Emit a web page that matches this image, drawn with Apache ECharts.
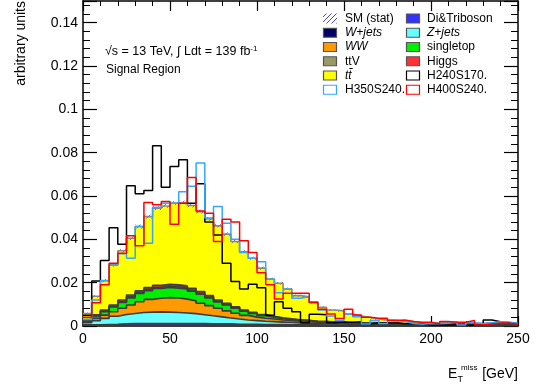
<!DOCTYPE html>
<html>
<head>
<meta charset="utf-8">
<script src="https://cdn.jsdelivr.net/npm/echarts@6.0.0/dist/echarts.min.js"></script>
<style>
  html, body { margin: 0; padding: 0; background: #fff; }
  #chart { width: 540px; height: 391px; }
</style>
</head>
<body>
<div id="chart"></div>
<script>
// 50 bins of 5 GeV, 0 - 250 GeV
var binWidth = 5;

// stacked backgrounds, bottom -> top
var wJets = [0.0002,0.0002,0.0002,0.0002,0.0003,0.0003,0.0003,0.0003,0.0003,0.0003,
             0.0003,0.0003,0.0003,0.0003,0.0003,0.0003,0.0003,0.0002,0.0002,0.0002,
             0.0002,0.0002,0.0002,0.0002,0.0002,0.0002,0.0001,0.0001,0.0001,0.0001,
             0.0001,0.0001,0.0001,0.0001,0.0001,0.0001,0.0001,0.0001,0.0001,0.0001,
             0.0001,0.0001,0.0001,0.0001,0.0001,0.0001,0.0001,0.0001,0.0001,0.0001];
var diboson = [0.0003,0.0004,0.0005,0.0006,0.0007,0.0008,0.0008,0.0008,0.0008,0.0008,
               0.0008,0.0008,0.0008,0.0008,0.0007,0.0007,0.0007,0.0006,0.0006,0.0006,
               0.0005,0.0005,0.0005,0.0004,0.0004,0.0004,0.0004,0.0003,0.0003,0.0003,
               0.0003,0.0003,0.0003,0.0003,0.0002,0.0002,0.0002,0.0002,0.0002,0.0002,
               0.0002,0.0002,0.0002,0.0002,0.0002,0.0002,0.0002,0.0002,0.0002,0.0002];
var zJets = [0.0010,0.0019,0.0028,0.0037,0.0043,0.0047,0.0051,0.0053,0.0054,0.0053,
             0.0051,0.0049,0.0046,0.0041,0.0037,0.0032,0.0027,0.0024,0.0020,0.0017,
             0.0015,0.0013,0.0011,0.0010,0.0008,0.0007,0.0006,0.0007,0.0006,0.0005,
             0.0004,0.0004,0.0003,0.0003,0.0003,0.0003,0.0003,0.0002,0.0002,0.0002,
             0.0001,0.0001,0.0001,0.0001,0.0001,0.0001,0.0001,0.0001,0.0001,0.0001];
var ww = [0.0007,0.0011,0.0015,0.0021,0.0029,0.0039,0.0050,0.0059,0.0063,0.0067,
          0.0067,0.0064,0.0059,0.0053,0.0047,0.0040,0.0033,0.0027,0.0021,0.0016,
          0.0014,0.0012,0.0010,0.0009,0.0008,0.0007,0.0006,0.0005,0.0005,0.0004,
          0.0004,0.0003,0.0003,0.0003,0.0003,0.0003,0.0002,0.0003,0.0002,0.0002,
          0.0003,0.0002,0.0002,0.0002,0.0001,0.0002,0.0002,0.0002,0.0002,0.0001];
var singleTop = [0.0003,0.0010,0.0016,0.0022,0.0027,0.0033,0.0038,0.0040,0.0045,0.0047,
                 0.0046,0.0047,0.0045,0.0042,0.0036,0.0029,0.0027,0.0023,0.0019,0.0017,
                 0.0012,0.0009,0.0006,0.0005,0.0005,0.0004,0.0003,0.0003,0.0002,0.0002,
                 0.0002,0.0002,0.0002,0.0001,0.0001,0.0001,0.0001,0.0001,0.0001,0.0001,
                 0.0001,0.0001,0.0001,0.0001,0.0001,0.0001,0.0001,0.0001,0.0001,0.0001];
var ttV = [0.0002,0.0002,0.0003,0.0003,0.0004,0.0005,0.0005,0.0006,0.0006,0.0006,
           0.0006,0.0006,0.0005,0.0005,0.0004,0.0004,0.0003,0.0003,0.0003,0.0002,
           0.0002,0.0002,0.0002,0.0001,0.0001,0.0001,0.0001,0.0001,0.0001,0.0001,
           0.0001,0.0001,0.0001,0.0001,0.0001,0.0001,0.0001,0.0001,0.0001,0.0001,
           0.0001,0.0001,0.0001,0.0001,0.0001,0.0001,0.0001,0.0001,0.0001,0.0001];
var higgs = [0.0003,0.0004,0.0005,0.0006,0.0007,0.0008,0.0008,0.0008,0.0009,0.0009,
             0.0009,0.0008,0.0008,0.0007,0.0006,0.0005,0.0005,0.0004,0.0003,0.0003,
             0.0003,0.0002,0.0002,0.0002,0.0001,0.0001,0.0001,0.0001,0.0001,0.0001,
             0.0001,0.0001,0.0001,0.0001,0.0001,0.0001,0.0001,0.0001,0.0001,0.0001,
             0.0001,0.0001,0.0001,0.0001,0.0001,0.0001,0.0001,0.0001,0.0001,0.0001];
var ttbar = [0.0028,0.0085,0.0135,0.0185,0.0227,0.0262,0.0296,0.0328,0.0356,0.0361,
             0.0377,0.0385,0.0382,0.0369,0.0354,0.0342,0.0319,0.0301,0.0269,0.0250,
             0.0214,0.0172,0.0159,0.0138,0.0111,0.0109,0.0087,0.0065,0.0055,0.0053,
             0.0039,0.0031,0.0026,0.0019,0.0016,0.0013,0.0013,0.0010,0.0005,0.0005,
             0.0004,0.0007,0.0006,0.0004,0.0005,0.0003,0.0005,0.0005,0.0004,0.0004];
// statistical uncertainty of the SM stack (half width)
var smErr = [0.0004,0.0006,0.0007,0.0008,0.0008,0.0009,0.0009,0.0009,0.0009,0.0009,
             0.0009,0.0009,0.0009,0.0009,0.0009,0.0008,0.0008,0.0008,0.0007,0.0007,
             0.0007,0.0006,0.0006,0.0006,0.0005,0.0005,0.0005,0.0004,0.0004,0.0004,
             0.0003,0.0003,0.0003,0.0003,0.0003,0.0003,0.0003,0.0003,0.0003,0.0003,
             0.0003,0.0003,0.0003,0.0003,0.0003,0.0003,0.0003,0.0003,0.0003,0.0003];

// signals
var h240s170 = [0.0050,0.0208,0.0302,0.0454,0.0377,0.0647,0.0610,0.0625,0.0832,0.0640,
                0.0736,0.0767,0.0567,0.0656,0.0480,0.0420,0.0290,0.0205,0.0171,0.0193,
                0.0177,0.0050,0.0112,0.0082,0.0066,0.0015,0.0054,0.0052,0.0015,0.0018,
                0.0017,0.0020,0.0009,0.0015,0.0015,0.0015,0.0010,0.0012,0.0008,0.0005,
                0.0006,0.0005,0.0005,0.0004,0.0005,0.0004,0.0028,0.0020,0.0015,0.0012];
var h350s240 = [0.0030,0.0120,0.0210,0.0280,0.0333,0.0313,0.0459,0.0382,0.0548,0.0567,
                0.0567,0.0620,0.0645,0.0752,0.0498,0.0551,0.0474,0.0400,0.0339,0.0313,
                0.0297,0.0216,0.0154,0.0170,0.0128,0.0135,0.0112,0.0074,0.0046,0.0025,
                0.0055,0.0043,0.0009,0.0025,0.0012,0.0028,0.0021,0.0012,0.0008,0.0012,
                0.0010,0.0013,0.0020,0.0005,0.0015,0.0010,0.0015,0.0020,0.0018,0.0012];
var h400s240 = [0.0040,0.0107,0.0190,0.0290,0.0336,0.0416,0.0370,0.0570,0.0560,0.0575,
                0.0470,0.0567,0.0685,0.0531,0.0520,0.0390,0.0493,0.0480,0.0393,0.0339,
                0.0246,0.0190,0.0125,0.0151,0.0151,0.0151,0.0108,0.0077,0.0055,0.0035,
                0.0077,0.0051,0.0040,0.0036,0.0036,0.0025,0.0028,0.0021,0.0017,0.0017,
                0.0009,0.0021,0.0017,0.0017,0.0025,0.0005,0.0009,0.0014,0.0014,0.0008];

var fontFamily = "'Liberation Sans', Arial, Helvetica, sans-serif";

var ttbarName = 'tt\u0304';
var stackNames = ['W+jets', 'Di&Triboson', 'Z+jets', 'WW', 'singletop', 'ttV', 'Higgs', ttbarName];
var stackValues = [wJets, diboson, zJets, ww, singleTop, ttV, higgs, ttbar];
var stackColors = ['#000066', '#3333ff', '#66ffff', '#ff9900', '#00ee00', '#999966', '#ff3333', '#ffff00'];

var signalNames = ['H240S170.', 'H350S240.', 'H400S240.'];
var signalValues = [h240s170, h350s240, h400s240];
var signalColors = ['#000000', '#33a6ff', '#ff0000'];

// histogram -> step points (bin left edges plus closing right edge)
function stepPoints(vals) {
  var pts = vals.map(function (v, i) { return [i * binWidth, v]; });
  pts.push([vals.length * binWidth, vals[vals.length - 1]]);
  return pts;
}

// cumulative sums for the stack
var cumulative = [];
stackValues.forEach(function (arr, k) {
  cumulative.push(arr.map(function (v, i) { return v + (k > 0 ? cumulative[k - 1][i] : 0); }));
});
var total = cumulative[cumulative.length - 1];

// hatch pattern for SM (stat)
function hatchPattern(color) {
  var c = document.createElement('canvas');
  c.width = 5; c.height = 5;
  var ctx = c.getContext('2d');
  ctx.strokeStyle = color;
  ctx.lineWidth = 1;
  ctx.beginPath();
  ctx.moveTo(0, 5); ctx.lineTo(5, 0);
  ctx.moveTo(-1, 1); ctx.lineTo(1, -1);
  ctx.moveTo(4, 6); ctx.lineTo(6, 4);
  ctx.stroke();
  return { image: c, repeat: 'repeat' };
}

var series = [];
// draw from the top of the stack down, each area filled to zero
for (var k = stackValues.length - 1; k >= 0; k--) {
  series.push({
    name: stackNames[k],
    type: 'line',
    step: 'end',
    symbol: 'none',
    silent: true,
    z: 2,
    data: stepPoints(cumulative[k]),
    lineStyle: { color: k === stackValues.length - 1 ? '#8a8a8a' : '#3c3c3c', width: 1.6 },
    areaStyle: { color: stackColors[k], opacity: 1 }
  });
}

series.push({
  name: 'SM (stat)',
  type: 'custom',
  silent: true,
  z: 3,
  data: total.map(function (t, i) { return [i * binWidth, t, smErr[i]]; }),
  renderItem: function (params, api) {
    var x0 = api.value(0), t = api.value(1), e = api.value(2);
    var p1 = api.coord([x0, t + e]);
    var p2 = api.coord([x0 + binWidth, t - e]);
    return {
      type: 'rect',
      shape: { x: p1[0], y: p1[1], width: p2[0] - p1[0], height: p2[1] - p1[1] },
      style: { fill: hatchPattern('#777799'), stroke: null }
    };
  }
});

signalValues.forEach(function (vals, k) {
  series.push({
    name: signalNames[k],
    type: 'line',
    step: 'end',
    symbol: 'none',
    silent: true,
    z: 5,
    data: stepPoints(vals),
    lineStyle: { color: signalColors[k], width: 1.5 }
  });
});

// legend drawn by hand in ROOT style (two columns)
var legendRows = [
  ['SM (stat)', 'Di&Triboson'],
  ['W+jets', 'Z+jets'],
  ['WW', 'singletop'],
  ['ttV', 'Higgs'],
  [ttbarName, 'H240S170.'],
  ['H350S240.', 'H400S240.']
];
var italicNames = ['W+jets', 'Z+jets', 'WW', ttbarName];
var legendColX = [323, 406];
var legendTextX = [345, 427];
var legendY0 = 18.5, legendPitch = 14.25;

var graphics = [];
legendRows.forEach(function (row, r) {
  row.forEach(function (name, c) {
    var cy = legendY0 + r * legendPitch;
    var icon;
    if (name === 'SM (stat)') {
      icon = { type: 'rect', shape: { x: legendColX[c], y: cy - 5, width: 14, height: 10 },
               style: { fill: hatchPattern('#4a4ad0'), stroke: null } };
    } else {
      var si = stackNames.indexOf(name), gi = signalNames.indexOf(name);
      var fill = si >= 0 ? stackColors[si] : '#ffffff';
      var stroke = si >= 0 ? '#555555' : signalColors[gi];
      icon = { type: 'rect', shape: { x: legendColX[c] + 0.5, y: cy - 4.5, width: 13, height: 9 },
               style: { fill: fill, stroke: stroke, lineWidth: 1.2 } };
    }
    graphics.push(icon);
    graphics.push({
      type: 'text', x: legendTextX[c], y: cy,
      style: { text: name, fill: '#000', fontSize: 12, fontFamily: fontFamily,
               fontStyle: italicNames.indexOf(name) >= 0 ? 'italic' : 'normal',
               textAlign: 'left', textVerticalAlign: 'middle' }
    });
  });
});

// labels
graphics.push({
  type: 'text', x: 105, y: 52,
  style: { text: '\u221As = 13 TeV, \u222B Ldt = 139 fb{sup|-1}', fill: '#000', fontSize: 12.5,
           fontFamily: fontFamily, textAlign: 'left', textVerticalAlign: 'middle',
           rich: { sup: { fontSize: 8, fontFamily: fontFamily, verticalAlign: 'top', padding: [0, 0, 6, 0] } } }
});
graphics.push({
  type: 'text', x: 106, y: 70,
  style: { text: 'Signal Region', fill: '#000', fontSize: 12, fontFamily: fontFamily,
           textAlign: 'left', textVerticalAlign: 'middle' }
});
graphics.push({
  type: 'text', x: 21, y: 1, rotation: Math.PI / 2,
  style: { text: 'arbitrary units', fill: '#000', fontSize: 14, fontFamily: fontFamily,
           textAlign: 'right', textVerticalAlign: 'middle' }
});
graphics.push({
  type: 'text', x: 448, y: 374,
  style: { text: 'E', fill: '#000', fontSize: 14, fontFamily: fontFamily, textAlign: 'left', textVerticalAlign: 'middle' }
});
graphics.push({
  type: 'text', x: 461, y: 368,
  style: { text: 'miss', fill: '#000', fontSize: 8, fontFamily: fontFamily, textAlign: 'left', textVerticalAlign: 'middle' }
});
graphics.push({
  type: 'text', x: 457.5, y: 379.5,
  style: { text: 'T', fill: '#000', fontSize: 9, fontFamily: fontFamily, textAlign: 'left', textVerticalAlign: 'middle' }
});
graphics.push({
  type: 'text', x: 518, y: 374,
  style: { text: '[GeV]', fill: '#000', fontSize: 14, fontFamily: fontFamily, textAlign: 'right', textVerticalAlign: 'middle' }
});

function xAxisOf(pos) {
  return {
    type: 'value', position: pos, min: 0, max: 250, interval: 50,
    axisLine: { show: true, onZero: false, lineStyle: { color: '#000', width: 1.5 } },
    axisTick: { show: true, inside: true, length: 10, lineStyle: { color: '#000', width: 1.2 } },
    minorTick: { show: true, splitNumber: 5, length: 5, lineStyle: { color: '#000', width: 1 } },
    splitLine: { show: false },
    axisLabel: { show: pos === 'bottom', color: '#000', fontSize: 14, fontFamily: fontFamily, margin: 6 }
  };
}
function yAxisOf(pos) {
  return {
    type: 'value', position: pos, min: 0, max: 0.15, interval: 0.02,
    axisLine: { show: true, onZero: false, lineStyle: { color: '#000', width: 1.5 } },
    axisTick: { show: true, inside: true, length: 14, lineStyle: { color: '#000', width: 1.2 } },
    minorTick: { show: true, splitNumber: 5, length: 7, lineStyle: { color: '#000', width: 1 } },
    splitLine: { show: false },
    axisLabel: { show: pos === 'left', color: '#000', fontSize: 14, fontFamily: fontFamily, margin: 5,
                 showMaxLabel: false }
  };
}

var chart = echarts.init(document.getElementById('chart'));
chart.setOption({
  animation: false,
  backgroundColor: '#fff',
  grid: { left: 83, right: 22, top: 1, bottom: 65, containLabel: false, outerBoundsMode: 'none' },
  xAxis: [xAxisOf('bottom'), xAxisOf('top')],
  yAxis: [yAxisOf('left'), yAxisOf('right')],
  series: series,
  graphic: graphics
});
</script>
</body>
</html>
